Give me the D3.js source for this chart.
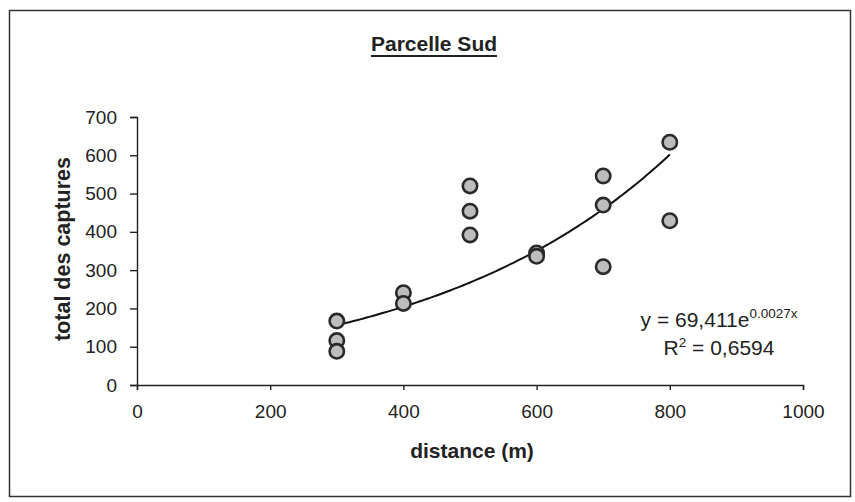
<!DOCTYPE html>
<html><head><meta charset="utf-8">
<script src="https://cdn.jsdelivr.net/npm/d3@7"></script>
<style>body{margin:0;background:#fff;} text{font-family:"Liberation Sans",Arial,sans-serif;fill:#222;}</style>
</head><body><svg id="c" width="855" height="502"></svg>
<script>
const distances = [300,300,300,400,400,500,500,500,600,600,700,700,700,800,800];
const captures  = [167,116,88,241,213,520,454,392,345,336,546,470,309,634,429];
const xTicks = [0,200,400,600,800,1000];
const yTicks = [0,100,200,300,400,500,600,700];
const trendA = 69.411, trendB = 0.0027;
const trendRange = [300,800];
const title = "Parcelle Sud";
const xLabel = "distance (m)";
const yLabel = "total des captures";
const eqText = ["y = 69,411e", "0.0027x"];
const r2Text = ["R", "2", " = 0,6594"];

const svg = d3.select("#c");
svg.append("rect").attr("x",9.5).attr("y",10.5).attr("width",841).attr("height",486)
  .attr("fill","#fff").attr("stroke","#333").attr("stroke-width",1.5);

const x = d3.scaleLinear().domain([0,1000]).range([137,803]);
const y = d3.scaleLinear().domain([0,700]).range([385,117]);

const xAxis = svg.append("g").attr("transform","translate(0,385)")
  .call(d3.axisBottom(x).tickValues(xTicks).tickFormat(d3.format("d")).tickSize(5).tickPadding(15));
const yAxis = svg.append("g").attr("transform","translate(137,0)")
  .call(d3.axisLeft(y).tickValues(yTicks).tickFormat(d3.format("d")).tickSize(7).tickPadding(13));
[xAxis,yAxis].forEach(g=>{
  g.selectAll("path,line").attr("stroke","#222").attr("stroke-width",1.4);
  g.selectAll("text").attr("font-size",19).attr("fill","#222")
   .style("font-family","'Liberation Sans',Arial,sans-serif");
});

// trend line
const tl = d3.range(trendRange[0], trendRange[1]+1, 5).map(d=>[d, trendA*Math.exp(trendB*d)]);
svg.append("path").datum(tl).attr("fill","none").attr("stroke","#111").attr("stroke-width",2)
  .attr("d", d3.line().x(d=>x(d[0])).y(d=>y(d[1])));

// points
svg.append("g").selectAll("circle").data(distances.map((d,i)=>[d,captures[i]])).join("circle")
  .attr("cx",d=>x(d[0])).attr("cy",d=>y(d[1])).attr("r",7.2)
  .attr("fill","#bdbdbd").attr("stroke","#2a2a2a").attr("stroke-width",2.6);

// title
const t = svg.append("text").attr("x",434).attr("y",51).attr("text-anchor","middle")
  .attr("font-size",21).attr("font-weight","bold").text(title);
const bb = t.node().getBBox();
svg.append("line").attr("x1",bb.x).attr("x2",bb.x+bb.width).attr("y1",56).attr("y2",56)
  .attr("stroke","#222").attr("stroke-width",2);

svg.append("text").attr("x",472).attr("y",458).attr("text-anchor","middle")
  .attr("font-size",21).attr("font-weight","bold").text(xLabel);
svg.append("text").attr("transform","translate(70,249) rotate(-90)").attr("text-anchor","middle")
  .attr("font-size",21.5).attr("font-weight","bold").text(yLabel);

const eq = svg.append("text").attr("x",719).attr("y",327).attr("text-anchor","middle").attr("font-size",21);
eq.append("tspan").text(eqText[0]);
eq.append("tspan").attr("dy",-9).attr("font-size",13.5).text(eqText[1]);
const r2 = svg.append("text").attr("x",719).attr("y",355).attr("text-anchor","middle").attr("font-size",21);
r2.append("tspan").text(r2Text[0]);
r2.append("tspan").attr("dy",-8).attr("font-size",13.5).text(r2Text[1]);
r2.append("tspan").attr("dy",8).text(r2Text[2]);
</script></body></html>
